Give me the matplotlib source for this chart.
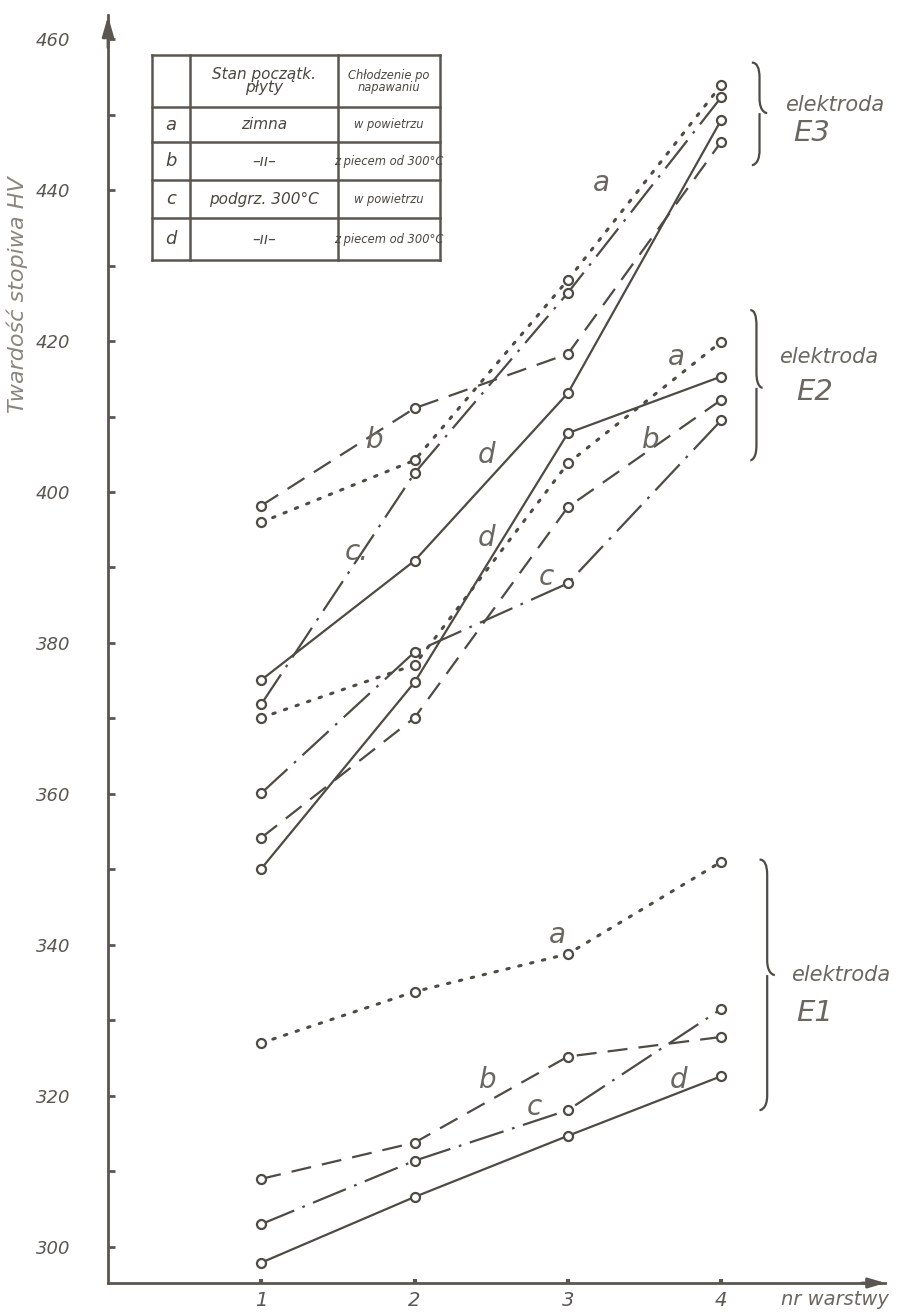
import numpy as np
import matplotlib.pyplot as plt
from matplotlib.path import Path
from matplotlib.patches import PathPatch

layers = [1, 2, 3, 4]

# elektroda E3
e3_a = [396.0, 404.2, 428.1, 453.9]
e3_b = [398.2, 411.1, 418.3, 446.4]
e3_c = [371.9, 402.5, 426.4, 452.3]
e3_d = [375.1, 390.9, 413.1, 449.3]

# elektroda E2
e2_a = [370.1, 377.1, 403.8, 419.9]
e2_b = [354.2, 370.1, 398.0, 412.2]
e2_c = [360.1, 378.8, 387.9, 409.5]
e2_d = [350.1, 374.8, 407.8, 415.3]

# elektroda E1
e1_a = [327.0, 333.8, 338.8, 351.0]
e1_b = [309.0, 313.8, 325.2, 327.8]
e1_c = [303.0, 311.4, 318.1, 331.5]
e1_d = [297.9, 306.6, 314.7, 322.6]

yticks = list(range(300, 461, 20))
yminor = list(range(310, 451, 20))

table_rows = [
    ["", "Stan początk.\npłyty", "Chłodzenie po\nnapawaniu"],
    ["a", "zimna", "w powietrzu"],
    ["b", "–ıı–", "z piecem od 300°C"],
    ["c", "podgrz. 300°C", "w powietrzu"],
    ["d", "–ıı–", "z piecem od 300°C"],
]

ink = "#4e4a45"
txt = "#6a6661"

styles = {
    "a": dict(ls=(0, (0.8, 3.2)), lw=2.2, dash_capstyle="round"),
    "b": dict(ls=(0, (9, 5)), lw=1.6),
    "c": dict(ls=(0, (16, 4, 1.2, 4)), lw=1.6),
    "d": dict(ls="-", lw=1.6),
}


def draw_curve(ax, vals, key):
    st = styles[key]
    ax.plot(layers, vals, color=ink, linestyle=st["ls"], lw=st["lw"],
            dash_capstyle=st.get("dash_capstyle", "butt"), zorder=2)
    ax.plot(layers, vals, "o", ms=6.5, mfc="white", mec=ink, mew=1.6, zorder=3)


def brace(ax, x0, x1, ytop, ybot, ymid):
    xm = (x0 + x1) / 2
    h = 2.0
    verts = [(x0, ytop), (xm, ytop), (xm, ytop - h),
             (xm, ymid + h),
             (xm, ymid), (x1, ymid), (x1, ymid),
             (xm, ymid), (xm, ymid - h),
             (xm, ybot + h),
             (xm, ybot), (x0, ybot), (x0, ybot)]
    codes = [Path.MOVETO, Path.CURVE3, Path.CURVE3,
             Path.LINETO,
             Path.CURVE4, Path.CURVE4, Path.CURVE4,
             Path.MOVETO, Path.CURVE3,
             Path.LINETO,
             Path.CURVE4, Path.CURVE4, Path.CURVE4]
    ax.add_patch(PathPatch(Path(verts, codes), fc="none", ec=ink, lw=1.6,
                           clip_on=False))


fig = plt.figure(figsize=(9.05, 13.16), dpi=100)
ax = fig.add_axes([108 / 905, 33 / 1316, 777 / 905, 1268 / 1316])
ax.set_xlim(0, 777 / 153.3)
ax.set_ylim(295.2, 463.2)

for key, vals in zip("abcd", [e3_a, e3_b, e3_c, e3_d]):
    draw_curve(ax, vals, key)
for key, vals in zip("abcd", [e2_a, e2_b, e2_c, e2_d]):
    draw_curve(ax, vals, key)
for key, vals in zip("abcd", [e1_a, e1_b, e1_c, e1_d]):
    draw_curve(ax, vals, key)

for s in ["top", "right"]:
    ax.spines[s].set_visible(False)
for s in ["left", "bottom"]:
    ax.spines[s].set_color("#5b5650")
    ax.spines[s].set_linewidth(2)

ax.set_yticks(yticks)
ax.set_yticks(yminor, minor=True)
ax.set_xticks(layers)
ax.tick_params(axis="y", which="both", direction="in", length=5, width=2,
               colors="#5b5650", pad=27, labelsize=13, labelcolor="#5a5652")
ax.tick_params(axis="x", direction="in", length=3, width=3,
               colors="#5b5650", pad=6, labelsize=14, labelcolor="#5a5652")
for lab in ax.get_yticklabels() + ax.get_xticklabels():
    lab.set_fontstyle("italic")

# axis arrows
ax.annotate("", xy=(0, 463.4), xytext=(0, 458.5), annotation_clip=False,
            arrowprops=dict(arrowstyle="-|>,head_width=0.35,head_length=1.2",
                            color="#5b5650", lw=2))
ax.annotate("", xy=(777 / 153.3 + 0.02, 295.2), xytext=(4.9, 295.2),
            annotation_clip=False,
            arrowprops=dict(arrowstyle="-|>,head_width=0.3,head_length=1.0",
                            color="#5b5650", lw=2))

ax.text(4.74, 293.0, "nr warstwy", fontsize=14, style="italic", color=txt,
        ha="center", va="center", clip_on=False)

fig.text(17 / 905, 1 - 295 / 1316, "Twardość stopiwa HV", rotation=90,
         fontsize=16, style="italic", color="#8a8580", ha="center",
         va="center")

# curve letters
lab_kw = dict(fontsize=20, style="italic", color=txt, ha="center",
              va="center")
for x, y, s in [(3.22, 440.9, "a"), (1.74, 406.9, "b"), (1.62, 392.0, "c."),
                (2.47, 404.9, "d"),
                (3.71, 417.9, "a"), (3.54, 406.9, "b"), (2.86, 388.7, "c"),
                (2.47, 393.9, "d"),
                (2.93, 341.3, "a"), (2.48, 322.1, "b"), (2.78, 318.5, "c"),
                (3.72, 322.1, "d")]:
    ax.text(x, y, s, **lab_kw)

# braces and electrode names
brace(ax, 4.20, 4.30, 456.9, 443.3, 450.2)
brace(ax, 4.19, 4.27, 424.1, 404.2, 413.8)
brace(ax, 4.25, 4.35, 351.3, 318.1, 336.0)
el_kw = dict(style="italic", color=txt, ha="center", va="center")
ax.text(4.34 + 0.40, 451.3, "elektroda", fontsize=15, **el_kw)
ax.text(4.34 + 0.25, 447.6, "E3", fontsize=21, **el_kw)
ax.text(4.28 + 0.42, 417.9, "elektroda", fontsize=15, **el_kw)
ax.text(4.28 + 0.33, 413.2, "E2", fontsize=21, **el_kw)
ax.text(4.36 + 0.42, 336.0, "elektroda", fontsize=15, **el_kw)
ax.text(4.36 + 0.25, 331.0, "E1", fontsize=21, **el_kw)

# legend table (pixel layout converted to figure fraction)
col_x = [152, 190, 338, 440]
row_y = [55, 107, 142, 180, 218, 260]
W, H = 905, 1316
for xv in col_x:
    fig.add_artist(plt.Line2D([xv / W, xv / W], [1 - row_y[0] / H, 1 - row_y[-1] / H],
                              color="#5b5650", lw=1.8))
for yv in row_y:
    fig.add_artist(plt.Line2D([col_x[0] / W, col_x[-1] / W], [1 - yv / H, 1 - yv / H],
                              color="#5b5650", lw=1.8))
col_fs = [13, 11, 8.3]
for r, row in enumerate(table_rows):
    yc = 1 - (row_y[r] + row_y[r + 1]) / 2 / H
    for c, cell in enumerate(row):
        xc = (col_x[c] + col_x[c + 1]) / 2 / W
        fig.text(xc, yc, cell, fontsize=col_fs[c], style="italic",
                 color="#4a4641", ha="center", va="center", linespacing=0.9)

fig.savefig("out.png", dpi=100, facecolor="white")
